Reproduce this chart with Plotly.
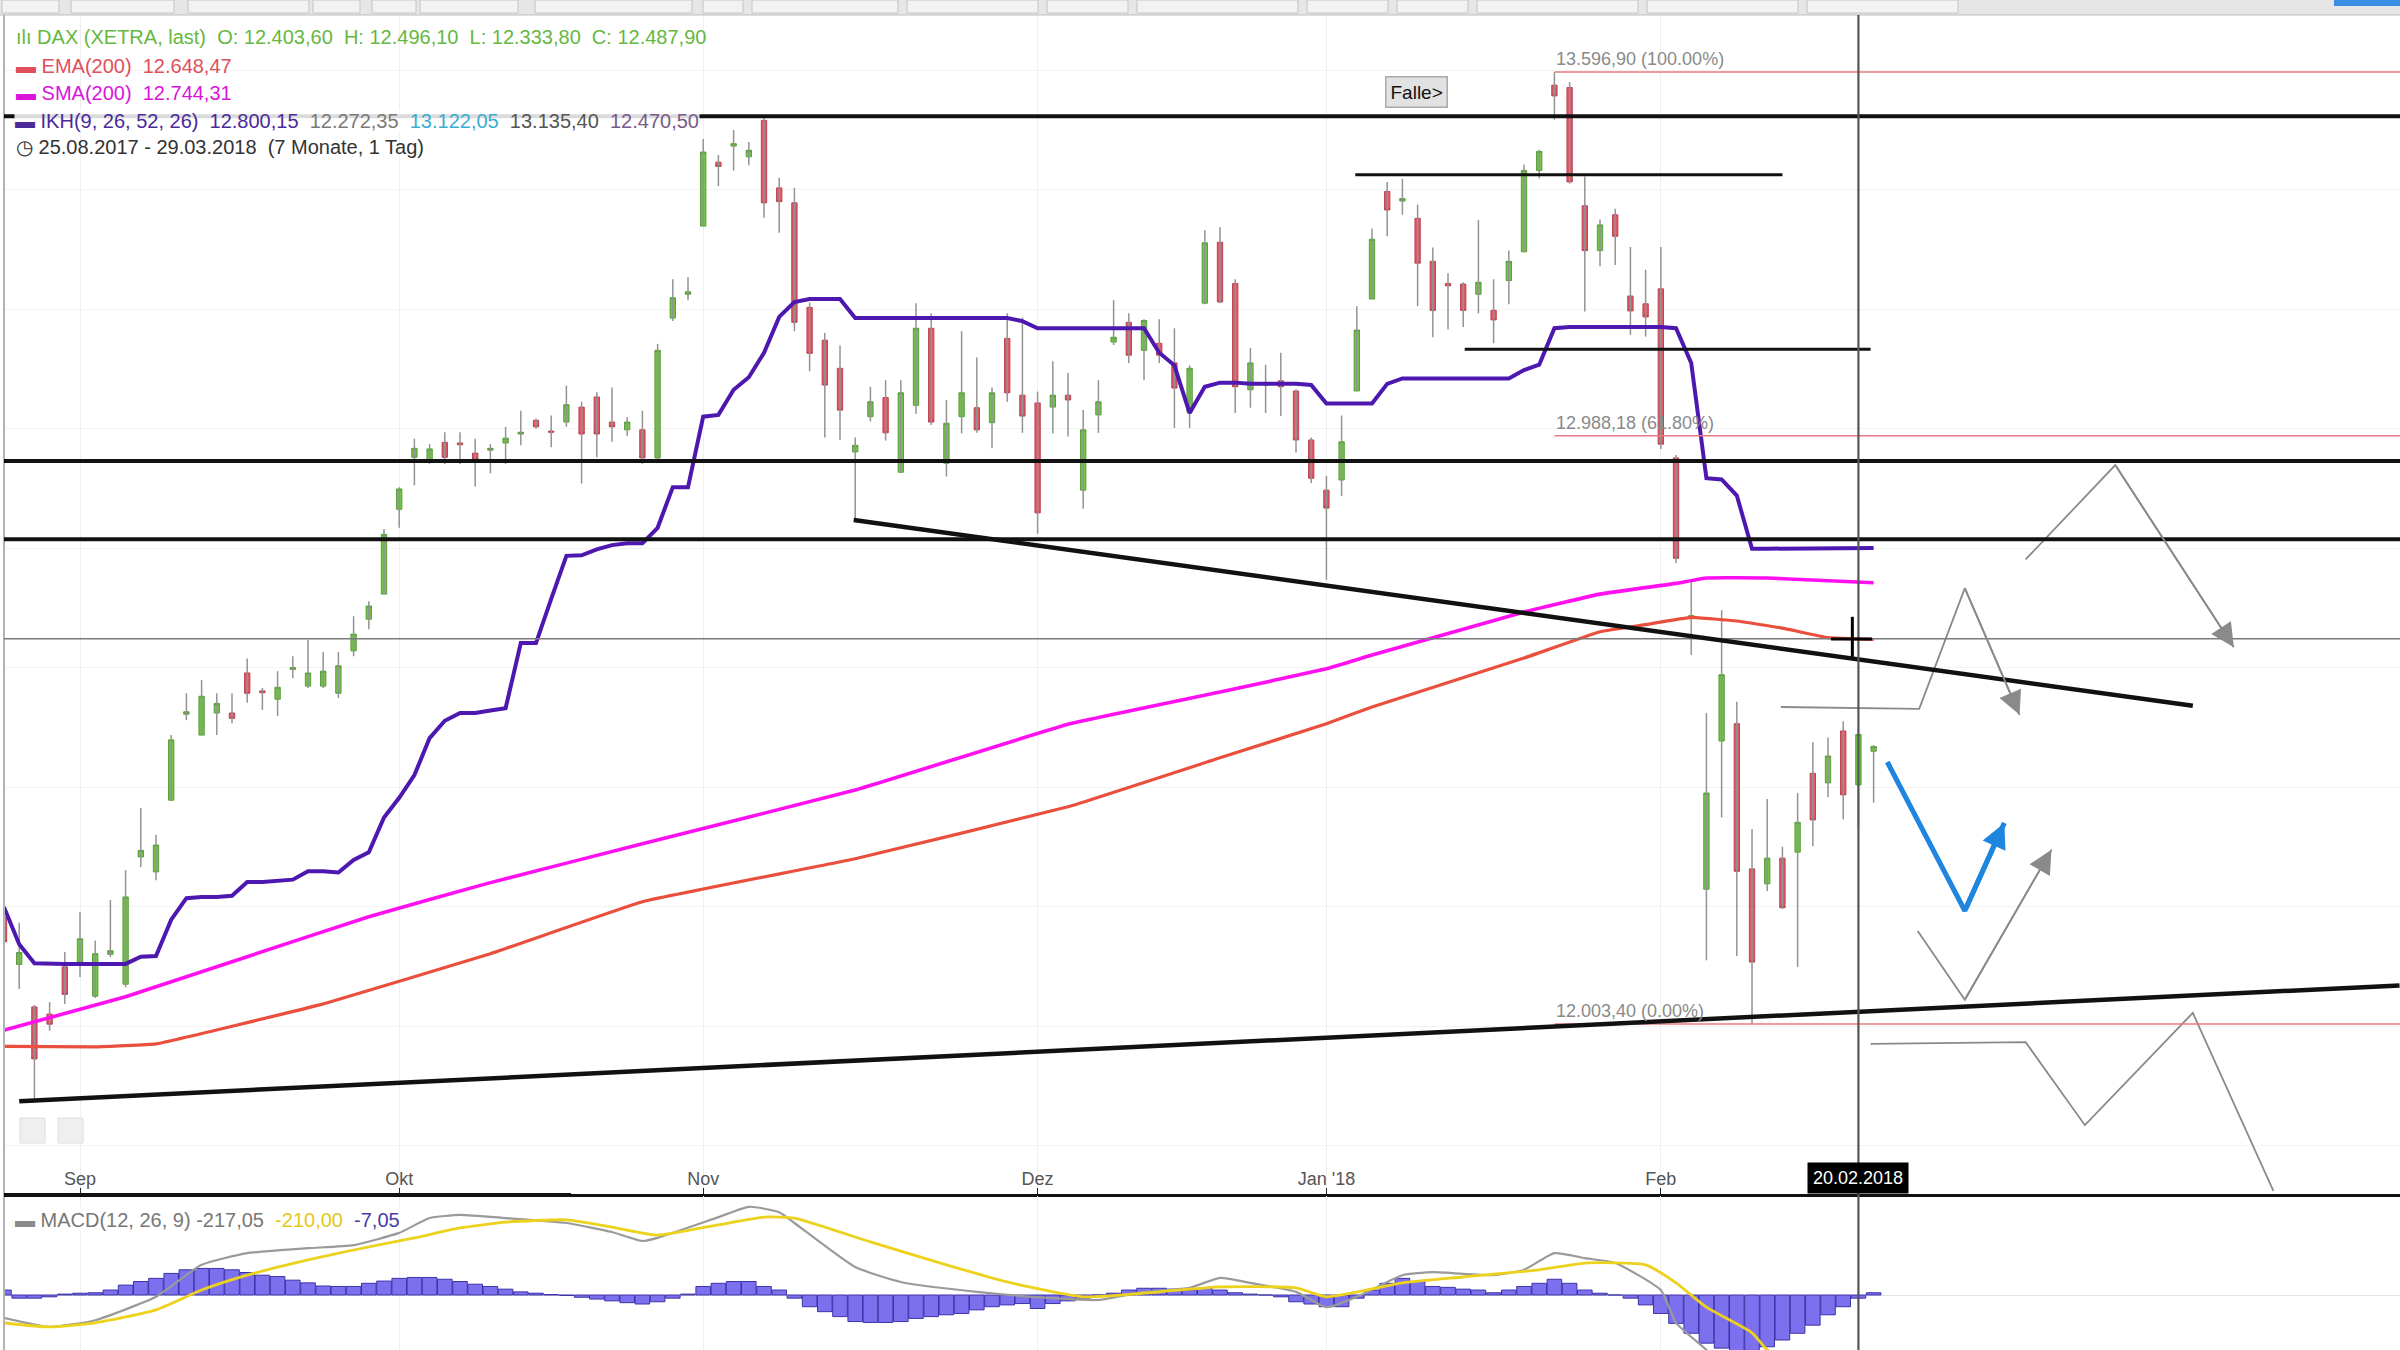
import plotly.graph_objects as go

W, H = 2400, 1350
FONT = "Liberation Sans, Arial, sans-serif"

# ---------------- data ----------------
dates = [
    "2017-08-25", "2017-08-28", "2017-08-29", "2017-08-30", "2017-08-31",
    "2017-09-01", "2017-09-04", "2017-09-05", "2017-09-06", "2017-09-07", "2017-09-08",
    "2017-09-11", "2017-09-12", "2017-09-13", "2017-09-14", "2017-09-15",
    "2017-09-18", "2017-09-19", "2017-09-20", "2017-09-21", "2017-09-22",
    "2017-09-25", "2017-09-26", "2017-09-27", "2017-09-28", "2017-09-29",
    "2017-10-02", "2017-10-04", "2017-10-05", "2017-10-06",
    "2017-10-09", "2017-10-10", "2017-10-11", "2017-10-12", "2017-10-13",
    "2017-10-16", "2017-10-17", "2017-10-18", "2017-10-19", "2017-10-20",
    "2017-10-23", "2017-10-24", "2017-10-25", "2017-10-26", "2017-10-27", "2017-10-30",
    "2017-11-01", "2017-11-02", "2017-11-03",
    "2017-11-06", "2017-11-07", "2017-11-08", "2017-11-09", "2017-11-10",
    "2017-11-13", "2017-11-14", "2017-11-15", "2017-11-16", "2017-11-17",
    "2017-11-20", "2017-11-21", "2017-11-22", "2017-11-23", "2017-11-24",
    "2017-11-27", "2017-11-28", "2017-11-29", "2017-11-30", "2017-12-01",
    "2017-12-04", "2017-12-05", "2017-12-06", "2017-12-07", "2017-12-08",
    "2017-12-11", "2017-12-12", "2017-12-13", "2017-12-14", "2017-12-15",
    "2017-12-18", "2017-12-19", "2017-12-20", "2017-12-21", "2017-12-22",
    "2017-12-27", "2017-12-28", "2017-12-29",
    "2018-01-02", "2018-01-03", "2018-01-04", "2018-01-05",
    "2018-01-08", "2018-01-09", "2018-01-10", "2018-01-11", "2018-01-12",
    "2018-01-15", "2018-01-16", "2018-01-17", "2018-01-18", "2018-01-19",
    "2018-01-22", "2018-01-23", "2018-01-24", "2018-01-25", "2018-01-26",
    "2018-01-29", "2018-01-30", "2018-01-31", "2018-02-01", "2018-02-02",
    "2018-02-05", "2018-02-06", "2018-02-07", "2018-02-08", "2018-02-09",
    "2018-02-12", "2018-02-13", "2018-02-14", "2018-02-15", "2018-02-16",
    "2018-02-19", "2018-02-20", "2018-02-21",
]

opens = [12182, 12103, 12032, 12020, 12099, 12107, 12050, 12120, 12070, 12283,
         12258, 12378, 12522, 12487, 12524, 12524, 12591, 12561, 12547, 12597,
         12569, 12569, 12557, 12628, 12681, 12723, 12865, 12952, 12947, 12977,
         12976, 12959, 12964, 12976, 12991, 13014, 12996, 13011, 13036, 13053,
         13011, 12998, 12998, 12951, 13185, 13225, 13339, 13446, 13473, 13455,
         13516, 13403, 13378, 13203, 13148, 13101, 12961, 13020, 13052, 12927,
         13039, 13168, 12942, 13020, 13035, 13010, 13151, 13056, 13043, 13036,
         13056, 12897, 13023, 13145, 13178, 13131, 13143, 13110, 13028, 13210,
         13312, 13243, 13065, 13073, 13080, 13063, 12981, 12897, 12914, 13063,
         13217, 13397, 13381, 13352, 13280, 13243, 13242, 13225, 13198, 13248,
         13296, 13432, 13575, 13571, 13373, 13298, 13358, 13222, 13209, 13234,
         12951, 12682, 12229, 12477, 12506, 12263, 12238, 12281, 12291, 12423,
         12407, 12494, 12403.6, 12460]
highs = [12249, 12173, 12035, 12040, 12124, 12191, 12143, 12211, 12261, 12365,
         12320, 12487, 12557, 12579, 12557, 12557, 12615, 12566, 12594, 12619,
         12646, 12626, 12626, 12686, 12711, 12832, 12902, 12983, 12974, 12994,
         12994, 12983, 12974, 13003, 13030, 13017, 13022, 13072, 13045, 13061,
         13069, 13019, 13030, 13142, 13250, 13254, 13485, 13458, 13500, 13480,
         13525, 13420, 13403, 13211, 13160, 13139, 12985, 13070, 13081, 13081,
         13210, 13193, 13048, 13163, 13119, 13069, 13193, 13186, 13062, 13113,
         13093, 13031, 13081, 13215, 13193, 13183, 13183, 13168, 13106, 13332,
         13337, 13250, 13135, 13107, 13127, 13066, 12985, 12921, 13022, 13205,
         13335, 13413, 13418, 13375, 13303, 13260, 13245, 13349, 13250, 13298,
         13442, 13467, 13596.9, 13580, 13422, 13350, 13368, 13304, 13266, 13304,
         12956, 12748, 12524, 12696, 12543, 12330, 12380, 12300, 12390, 12475,
         12483, 12510, 12496.1, 12470]
lows = [12132, 12062, 11878, 11992, 12037, 12082, 12047, 12115, 12065, 12266,
        12244, 12378, 12512, 12487, 12487, 12507, 12541, 12529, 12519, 12582,
        12566, 12566, 12549, 12619, 12664, 12723, 12834, 12905, 12941, 12941,
        12941, 12903, 12925, 12941, 12972, 13000, 12969, 13003, 12908, 12952,
        12978, 12988, 12941, 12946, 13180, 13215, 13339, 13406, 13432, 13441,
        13353, 13328, 13163, 13096, 12985, 12981, 12849, 13012, 12980, 12927,
        13025, 13006, 12920, 12992, 12993, 12967, 13045, 12993, 12824, 12992,
        12987, 12866, 12993, 13140, 13110, 13081, 13110, 13001, 13001, 13208,
        13210, 13026, 13035, 13026, 13021, 12960, 12909, 12747, 12887, 13063,
        13217, 13322, 13358, 13205, 13153, 13166, 13170, 13193, 13143, 13208,
        13296, 13419, 13517, 13410, 13196, 13272, 13274, 13157, 13154, 12966,
        12775, 12621, 12110, 12349, 12117, 12003.4, 12226, 12196, 12099, 12301,
        12383, 12346, 12333.8, 12374]
closes = [12141, 12123, 11945, 12003, 12053, 12146, 12121, 12126, 12216, 12294,
          12303, 12479, 12526, 12552, 12540, 12515, 12557, 12558, 12567, 12600,
          12591, 12594, 12603, 12656, 12703, 12823, 12899, 12967, 12966, 12952,
          12973, 12949, 12967, 12984, 12994, 13003, 12994, 13040, 12991, 12991,
          13003, 13011, 12951, 13131, 13219, 13229, 13463, 13439, 13477, 13466,
          13378, 13380, 13178, 13126, 13073, 13031, 12972, 13045, 12993, 13060,
          13168, 13011, 13009, 13060, 12998, 13060, 13060, 13021, 12859, 13056,
          13048, 12998, 13045, 13153, 13123, 13181, 13123, 13068, 13101, 13311,
          13212, 13070, 13110, 13077, 13070, 12981, 12917, 12867, 12978, 13165,
          13317, 13366, 13385, 13277, 13198, 13239, 13198, 13245, 13182, 13280,
          13432, 13464, 13557, 13413, 13298, 13341, 13322, 13197, 13187, 12974,
          12783, 12687, 12390, 12588, 12259, 12107, 12281, 12198, 12341, 12345,
          12452, 12387, 12487.9, 12468]

# Ichimoku (Kijun) line, one value per candle
ikh_line = [12199, 12137, 12105, 12104, 12104, 12104, 12104, 12104, 12104, 12116,
            12117, 12178, 12214, 12216, 12216, 12218, 12241, 12241, 12243, 12245,
            12259, 12259, 12257, 12278, 12291, 12349, 12382, 12420, 12482, 12511,
            12524, 12524, 12528, 12532, 12641, 12641, 12715, 12787, 12788, 12798,
            12805, 12808, 12808, 12834, 12902, 12902, 13020, 13023, 13065, 13086,
            13127, 13187, 13212, 13217, 13217, 13217, 13185, 13185, 13185, 13185,
            13185, 13185, 13185, 13185, 13185, 13185, 13185, 13180, 13168, 13168,
            13168, 13168, 13168, 13168, 13168, 13168, 13127, 13106, 13026, 13070,
            13077, 13077, 13075, 13075, 13075, 13075, 13073, 13042, 13042, 13042,
            13042, 13075, 13084, 13084, 13084, 13084, 13084, 13084, 13084, 13084,
            13098, 13107, 13168, 13170, 13170, 13170, 13170, 13170, 13170, 13170,
            13168, 13110, 12917, 12915, 12888, 12799, 12799, 12799, 12799, 12799,
            12799, 12799, 12800.15, 12800.15]

# SMA(200) / EMA(200) read at sample candles (candle number, value)
sma_pos = [0, 8, 16, 24, 32, 42, 56, 70, 80, 87, 90, 100, 105, 110, 112, 116, 123]
sma_val = [11993, 12049, 12116, 12183, 12240, 12305, 12395, 12505, 12559, 12598,
           12621, 12693, 12723, 12741, 12750, 12750, 12742]
ema_pos = [0, 6, 10, 21, 32, 42, 56, 70, 80, 87, 90, 100, 105, 108, 111, 114, 117, 120, 123]
ema_val = [11966, 11965, 11970, 12037, 12121, 12208, 12280, 12367, 12449, 12506, 12534,
           12616, 12660, 12672, 12684, 12678, 12666, 12650, 12647]

# MACD(12,26,9)
macd_pos = [0, 3, 6, 10, 13, 16, 20, 23, 26, 28, 30, 33, 37, 40, 42, 43, 47, 49, 51, 52,
            56, 59, 64, 69, 72, 75, 78, 80, 82, 85, 87, 89, 92, 94, 98, 100, 102, 104, 106, 109,
            110, 112, 114, 116, 118, 120, 122, 123]
macd_val = [-51, -71, -56, -4, 67, 93, 104, 111, 138, 171, 178, 171, 160, 140, 120, 127, 173, 196, 184, 160,
            62, 29, 7, -7, -11, 7, 16, 38, 27, 7, -27, -4, 44, 51, 44, 56, 93, 82, 71, 11,
            -62, -122, -190, -235, -250, -235, -217, -210]
signal_pos = [0, 3, 6, 10, 13, 16, 20, 23, 27, 30, 33, 37, 40, 43, 47, 50, 52, 57, 62, 66,
              71, 76, 80, 85, 87, 92, 96, 101, 104, 108, 110, 112, 115, 116, 118, 120, 122, 123]
signal_val = [-62, -71, -62, -33, 11, 44, 78, 100, 127, 149, 162, 167, 151, 133, 156, 173, 171, 118, 67, 29,
              -4, 7, 18, 16, -4, 27, 40, 56, 71, 67, 27, -27, -84, -122, -160, -190, -210, -212]
macd_hist = [11, -7, -7, -4, 2, 4, 5, 11, 22, 30, 37, 48, 56, 59, 59, 56, 50, 44, 41, 33,
             27, 20, 19, 19, 26, 31, 37, 39, 39, 35, 30, 24, 19, 13, 7, 4, 1, -1, -5, -9,
             -13, -17, -20, -15, -7, 2, 19, 26, 30, 30, 19, 11, -7, -26, -37, -48, -59, -61, -61, -59,
             -52, -48, -44, -41, -33, -26, -22, -19, -30, -19, -13, -7, 0, 4, 11, 15, 15, 13, 11, 15,
             11, 5, 2, 0, -4, -15, -20, -26, -26, -7, 11, 26, 37, 30, 19, 17, 13, 11, 5, 11,
             19, 26, 35, 26, 11, 4, 0, -7, -22, -41, -63, -85, -107, -118, -125, -125, -115, -100, -85, -67,
             -44, -26, -7, 5]

month_ticks = ["2017-09-01", "2017-10-02", "2017-11-01", "2017-12-01", "2018-01-02", "2018-02-01"]
month_labels = ["Sep", "Okt", "Nov", "Dez", "Jan '18", "Feb"]

# drawn horizontal levels (full width) and short levels (price, from candle, to candle)
levels = [13523, 12946, 12815]
short_levels = [(13425, 88.9, 117.0), (13133, 96.1, 122.8)]
# trendlines: (candle number, price) pairs
trend_lower = [(1.0, 11874), (157.6, 12068)]
trend_upper = [(55.9, 12847), (144.0, 12536)]

fib_start = "2018-01-23"
fib_levels = [13596.90, 12988.18, 12003.40]
fib_labels = ["13.596,90 (100.00%)", "12.988,18 (61.80%)", "12.003,40 (0.00%)"]

cross_date = "2018-02-20"
cross_price = 12648.47
falle_pos = (92.95, 13563)

# hand-drawn projection paths (candle number, price)
proj_a = [(133.0, 12781), (138.9, 12939), (146.7, 12634)]
proj_b = [(116.9, 12534), (126.0, 12531), (129.0, 12733), (132.6, 12521)]
proj_c = [(125.9, 12159), (129.0, 12044), (134.7, 12295)]
proj_d = [(122.8, 11970), (133.0, 11973), (136.9, 11834), (144.0, 12022), (149.3, 11724)]
proj_blue = [(123.9, 12442), (129.0, 12193), (131.6, 12340)]
cursor_v = [(121.6, 12685), (121.6, 12618)]
cursor_h = [(120.2, 12648), (122.9, 12648)]

# ---------------- layout geometry ----------------
x_range = [0.066, 157.63]
y_range = [11718.8, 13692.4]
macd_range = [-122.2, 220]
main_top, main_bottom, macd_top = 15, 1194, 1196


def px(v):
    return v / W


def py(v):
    return 1 - v / H


xi = {d: i for i, d in enumerate(dates)}
x = list(range(len(dates)))
tick_idx = [xi[d] for d in month_ticks]

fig = go.Figure()

# wicks
wx, wy = [], []
for i in x:
    wx += [i, i, None]
    wy += [lows[i], highs[i], None]
fig.add_trace(go.Scatter(x=wx, y=wy, mode="lines", line=dict(color="#939393", width=1.5),
                         hoverinfo="skip", showlegend=False))

body_hi = [max(o, c) for o, c in zip(opens, closes)]
body_lo = [min(o, c) for o, c in zip(opens, closes)]
fig.add_trace(go.Candlestick(
    x=x, open=opens, high=body_hi, low=body_lo, close=closes,
    increasing=dict(fillcolor="#74c24a", line=dict(color="#55a033", width=1)),
    decreasing=dict(fillcolor="#df5866", line=dict(color="#c04250", width=1)),
    whiskerwidth=0, showlegend=False, hoverinfo="skip"))

fig.add_trace(go.Scatter(x=ema_pos, y=ema_val, mode="lines",
                         line=dict(color="#ea4f3d", width=3.2, shape="spline", smoothing=0.25),
                         showlegend=False, hoverinfo="skip"))
fig.add_trace(go.Scatter(x=sma_pos, y=sma_val, mode="lines",
                         line=dict(color="#ff10f0", width=3.6, shape="spline", smoothing=0.25),
                         showlegend=False, hoverinfo="skip"))
fig.add_trace(go.Scatter(x=x, y=ikh_line, mode="lines", line=dict(color="#4d18b0", width=4),
                         showlegend=False, hoverinfo="skip"))

# projections
for path, col, wdt in [(proj_a, "#8a8a8a", 1.8), (proj_b, "#8a8a8a", 1.8), (proj_c, "#8a8a8a", 1.8),
                       (proj_d, "#8a8a8a", 1.8), (proj_blue, "#1f86e0", 5)]:
    fig.add_trace(go.Scatter(x=[p[0] for p in path], y=[p[1] for p in path], mode="lines",
                             line=dict(color=col, width=wdt), showlegend=False, hoverinfo="skip"))

# MACD panel
fig.add_trace(go.Bar(x=x, y=macd_hist, width=0.96, xaxis="x2", yaxis="y2",
                     marker=dict(color="#7c70ee", line=dict(color="#3d32a8", width=1)),
                     showlegend=False, hoverinfo="skip"))
fig.add_trace(go.Scatter(x=macd_pos, y=macd_val, mode="lines", xaxis="x2", yaxis="y2",
                         line=dict(color="#9a9a9a", width=2.2, shape="spline", smoothing=0.5),
                         showlegend=False, hoverinfo="skip"))
fig.add_trace(go.Scatter(x=signal_pos, y=signal_val, mode="lines", xaxis="x2", yaxis="y2",
                         line=dict(color="#ecd21c", width=2.8, shape="spline", smoothing=0.5),
                         showlegend=False, hoverinfo="skip"))

shapes = []
# toolbar strip at top
shapes.append(dict(type="rect", xref="paper", yref="paper", x0=0, x1=1, y0=py(main_top), y1=1,
                   fillcolor="#e6e6e6", line=dict(width=0), layer="above"))
for a, b in [(0, 61), (69, 176), (186, 311), (311, 362), (370, 418), (418, 520), (533, 694),
             (701, 745), (750, 900), (905, 1040), (1045, 1130), (1135, 1300), (1305, 1390),
             (1395, 1470), (1475, 1640), (1645, 1800), (1805, 1960)]:
    shapes.append(dict(type="rect", xref="paper", yref="paper", x0=px(a + 2), x1=px(b - 2),
                       y0=py(13), y1=py(0), fillcolor="#f2f2f2", line=dict(color="#c4c4c4", width=1),
                       layer="above"))
shapes.append(dict(type="rect", xref="paper", yref="paper", x0=px(2334), x1=1, y0=py(6), y1=1,
                   fillcolor="#3a8ee6", line=dict(width=0), layer="above"))
shapes.append(dict(type="line", xref="paper", yref="paper", x0=0, x1=1, y0=py(main_top), y1=py(main_top),
                   line=dict(color="#bdbdbd", width=1)))
# left border
shapes.append(dict(type="line", xref="paper", yref="paper", x0=px(4), x1=px(4), y0=0, y1=py(main_top),
                   line=dict(color="#9a9a9a", width=1.5)))
# thicker scroll part of the time axis
shapes.append(dict(type="line", xref="paper", yref="paper", x0=px(4), x1=px(571), y0=py(main_bottom + 1),
                   y1=py(main_bottom + 1), line=dict(color="#111111", width=4)))
# small buttons bottom left
for a in (20, 58):
    shapes.append(dict(type="rect", xref="paper", yref="paper", x0=px(a), x1=px(a + 25),
                       y0=py(1143), y1=py(1118), fillcolor="#efefef", line=dict(color="#dedede", width=1)))

# crosshair horizontal
shapes.append(dict(type="line", xref="paper", yref="y", x0=px(4), x1=1, y0=cross_price, y1=cross_price,
                   line=dict(color="#7a7a7a", width=1.5)))
# fib lines
for lv in fib_levels:
    shapes.append(dict(type="line", xref="x", yref="y", x0=xi[fib_start], x1=x_range[1] + 5, y0=lv, y1=lv,
                       line=dict(color="#ea7a86", width=1.6)))
# full-width levels
for lv in levels:
    shapes.append(dict(type="line", xref="paper", yref="y", x0=px(4), x1=1, y0=lv, y1=lv,
                       line=dict(color="#111111", width=4)))
for lv, a, b in short_levels:
    shapes.append(dict(type="line", xref="x", yref="y", x0=a, x1=b, y0=lv, y1=lv,
                       line=dict(color="#111111", width=3)))
for tl in (trend_lower, trend_upper):
    shapes.append(dict(type="line", xref="x", yref="y", x0=tl[0][0], y0=tl[0][1], x1=tl[1][0], y1=tl[1][1],
                       line=dict(color="#111111", width=4.5)))
# crosshair vertical
shapes.append(dict(type="line", xref="x", yref="paper", x0=xi[cross_date], x1=xi[cross_date],
                   y0=0, y1=py(main_top), line=dict(color="#555555", width=2.2)))
# cursor cross
for seg in (cursor_v, cursor_h):
    shapes.append(dict(type="line", xref="x", yref="y", x0=seg[0][0], y0=seg[0][1], x1=seg[1][0], y1=seg[1][1],
                       line=dict(color="#000000", width=3)))

ann = []


def legend_line(y, text, color=None, bg=None):
    d = dict(xref="paper", yref="paper", x=px(14), y=py(y), xanchor="left", yanchor="middle",
             text=text, showarrow=False, font=dict(size=20, family=FONT, color=color or "#333"),
             align="left")
    if bg:
        d["bgcolor"] = bg
        d["borderpad"] = 0
    return d


ann.append(legend_line(37, "ılı DAX (XETRA, last)  O: 12.403,60  H: 12.496,10  L: 12.333,80  C: 12.487,90",
                       "#66b83f"))
ann.append(legend_line(66, "▬ EMA(200)  12.648,47", "#e0505c"))
ann.append(legend_line(93, "▬ SMA(200)  12.744,31", "#d915d9"))
ann.append(legend_line(121, "<span style='color:#4b2a9a'>▬ IKH(9, 26, 52, 26)  12.800,15</span>  "
                            "<span style='color:#7a7a7a'>12.272,35</span>  "
                            "<span style='color:#3aaed0'>13.122,05</span>  "
                            "<span style='color:#555555'>13.135,40</span>  "
                            "<span style='color:#7a5a8a'>12.470,50</span>", "#444",
                       "rgba(255,255,255,0.85)"))
ann.append(legend_line(147, "◷ 25.08.2017 - 29.03.2018  (7 Monate, 1 Tag)", "#333"))
ann.append(legend_line(1220, "<span style='color:#8a8a8a'>▬</span> MACD(12, 26, 9) -217,05  "
                             "<span style='color:#e6c81a'>-210,00</span>  "
                             "<span style='color:#4a3ca8'>-7,05</span>", "#777",
                       "rgba(255,255,255,0.9)"))

for lv, lab in zip(fib_levels, fib_labels):
    ann.append(dict(xref="x", yref="y", x=xi[fib_start], y=lv, xanchor="left", yanchor="bottom", yshift=1,
                    text=lab, showarrow=False, font=dict(size=18, family=FONT, color="#8a8a8a")))

ann.append(dict(xref="x", yref="y", x=falle_pos[0], y=falle_pos[1], text="Falle>", showarrow=False,
                font=dict(size=19, family=FONT, color="#111"), bgcolor="#e2e2e2", bordercolor="#aaaaaa",
                borderwidth=1.5, borderpad=4))

ann.append(dict(xref="x", yref="paper", x=xi[cross_date], y=py(main_bottom), yanchor="bottom",
                xanchor="center", text="20.02.2018", showarrow=False,
                font=dict(size=18, family=FONT, color="#ffffff"), bgcolor="#000000", borderpad=5))

# arrowheads
for path, col, wdt, sz in [(proj_a, "#8a8a8a", 1.8, 2.6), (proj_b, "#8a8a8a", 1.8, 2.6),
                           (proj_c, "#8a8a8a", 1.8, 2.6), (proj_blue, "#1f86e0", 5, 1.0)]:
    tail, head = path[-2], path[-1]
    ann.append(dict(xref="x", yref="y", axref="x", ayref="y", x=head[0], y=head[1], ax=tail[0], ay=tail[1],
                    text="", showarrow=True, arrowhead=2, arrowsize=sz, arrowwidth=wdt, arrowcolor=col,
                    standoff=0))

fig.update_layout(
    width=W, height=H, margin=dict(l=0, r=0, t=0, b=0),
    paper_bgcolor="white", plot_bgcolor="white", showlegend=False, boxgap=0.5,
    font=dict(family=FONT), hovermode=False,
    xaxis=dict(domain=[px(5), 1], range=x_range, anchor="y", showgrid=True, gridcolor="#efefef",
               tickmode="array", tickvals=tick_idx, ticktext=month_labels, ticklabelposition="inside",
               ticks="inside", ticklen=6, tickcolor="#222", tickfont=dict(size=18, color="#555", family=FONT),
               showline=True, linecolor="#111", linewidth=2.5, zeroline=False,
               rangeslider=dict(visible=False)),
    yaxis=dict(domain=[py(main_bottom), py(main_top)], range=y_range, anchor="x", showticklabels=False,
               showgrid=True, gridcolor="#f3f3f3", tick0=12000, dtick=200, zeroline=False),
    xaxis2=dict(domain=[px(5), 1], range=x_range, anchor="y2", matches="x", showticklabels=False,
                showgrid=True, gridcolor="#efefef", tickmode="array", tickvals=tick_idx, zeroline=False),
    yaxis2=dict(domain=[0, py(macd_top)], range=macd_range, anchor="x2", showticklabels=False,
                showgrid=False, zeroline=True, zerolinecolor="#e4e4e4", zerolinewidth=1),
    shapes=shapes, annotations=ann,
)

fig.write_html("out.html", config={"displayModeBar": False, "staticPlot": True},
               post_script="document.body.style.margin='0px';document.body.style.overflow='hidden';")
